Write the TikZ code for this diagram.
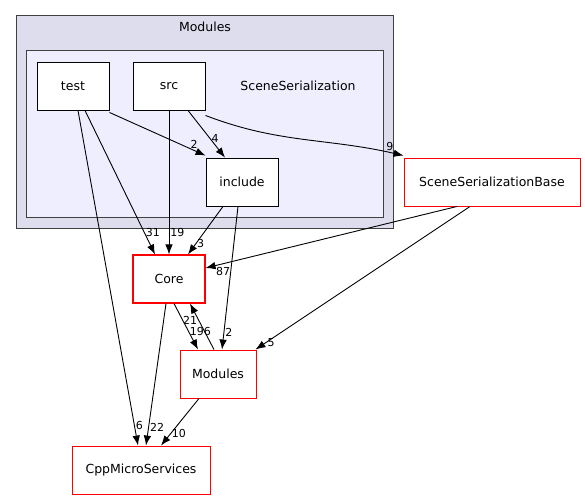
\documentclass[tikz,border=0pt]{standalone}
\usepackage{fontspec}
\setmainfont{DejaVu Sans}
\usepackage{xcolor}
\usetikzlibrary{arrows.meta}

\definecolor{outerfill}{HTML}{DDDDEE}
\definecolor{innerfill}{HTML}{EEEEFF}
\definecolor{clusterline}{HTML}{404040}
\definecolor{extline}{HTML}{FF0000}

\begin{document}
\begin{tikzpicture}[x=1pt, y=-1pt,
		dir/.style = {draw, fill = white, line width = 0.9pt, minimum width = 72pt, minimum height = 48pt, inner sep = 0pt, font = \fontsize{12.5}{14}\selectfont},
		ext/.style = {dir, draw = extline},
		dep/.style = {draw, line width = 0.9pt, -{Latex[length = 10pt, width = 7.5pt]}},
		num/.style = {inner sep = 1pt, font = \fontsize{11}{12}\selectfont}]
			\useasboundingbox (0,0) rectangle (585,500);
			
			\filldraw[fill = outerfill, draw = clusterline, line width = 1pt] (16,16) rectangle (393,228);
			\node[font = \fontsize{12.5}{14}\selectfont] (modlabel) at (205,27) {Modules};
			\filldraw[fill = innerfill, draw = clusterline, line width = 1pt] (26,51) rectangle (383,217);
			\node[font = \fontsize{12.5}{14}\selectfont] (sslabel) at (298,86) {SceneSerialization};
			
			\node[dir] (test) at (73,86) {test};
			\node[dir] (src) at (169,86) {src};
			\node[dir] (include) at (242,182) {include};
			\node[ext, minimum width = 176pt] (ssbase) at (492,182) {SceneSerializationBase};
			\node[ext, line width = 1.1pt] (coredir) at (169,279) {Core};
			\node[ext, minimum width = 76pt] (modules) at (218,374) {Modules};
			\node[ext, minimum width = 138pt] (cpp) at (141,470) {CppMicroServices};
			
			\begin{scope}[dep]
			\draw ([yshift = -2pt]test.south east) -- ([yshift = 2pt]include.north west) node [num, pos = 0.88, above] {2};
			\draw ([xshift = 19pt]src.south) -- ([xshift = -17pt]include.north) node [num, pos = 0.6, right] {4};
			\draw ([yshift = -5pt]src.south east) to[out = -21, in = 167] node [num, pos = 0.94, above] {9} ([yshift = 2pt]ssbase.north west);
			\draw ([xshift = 12pt]test.south) -- ([xshift = -14pt]coredir.north) node [num, pos = 0.85, right] {31};
			\draw (src.south) -- (coredir.north) node [num, pos = 0.85, right] {19};
			\draw ([xshift = -19pt]include.south) -- ([xshift = 19pt]coredir.north) node [num, pos = 0.78, right] {3};
			\draw ([xshift = -4pt]include.south) -- ([xshift = 4pt]modules.north) node [num, pos = 0.88, right] {2};
			\draw ([xshift = -35pt]ssbase.south) -- ([yshift = 11pt]coredir.east) node [num, pos = 0.93, below = 2pt] {87};
			\draw ([xshift = -22pt]ssbase.south) -- ([xshift = -1pt]modules.north east) node [num, pos = 0.95, right] {5};
			\draw ([xshift = 5pt]coredir.south) -- ([xshift = -20pt]modules.north) node [num, pos = 0.6, right] {196};
			\draw ([xshift = -4pt]modules.north) -- ([xshift = 21pt]coredir.south) node [num, pos = 0.64, left] {21};
			\draw ([xshift = 5pt]test.south) -- ([xshift = -3pt]cpp.north) node [num, pos = 0.94, right] {6};
			\draw ([xshift = -3pt]coredir.south) -- ([xshift = 5pt]cpp.north) node [num, pos = 0.87, right] {22};
			\draw ([xshift = -19pt]modules.south) -- ([xshift = 20pt]cpp.north) node [num, pos = 0.75, right] {10};
			\end{scope}
		\end{tikzpicture}
\end{document}
